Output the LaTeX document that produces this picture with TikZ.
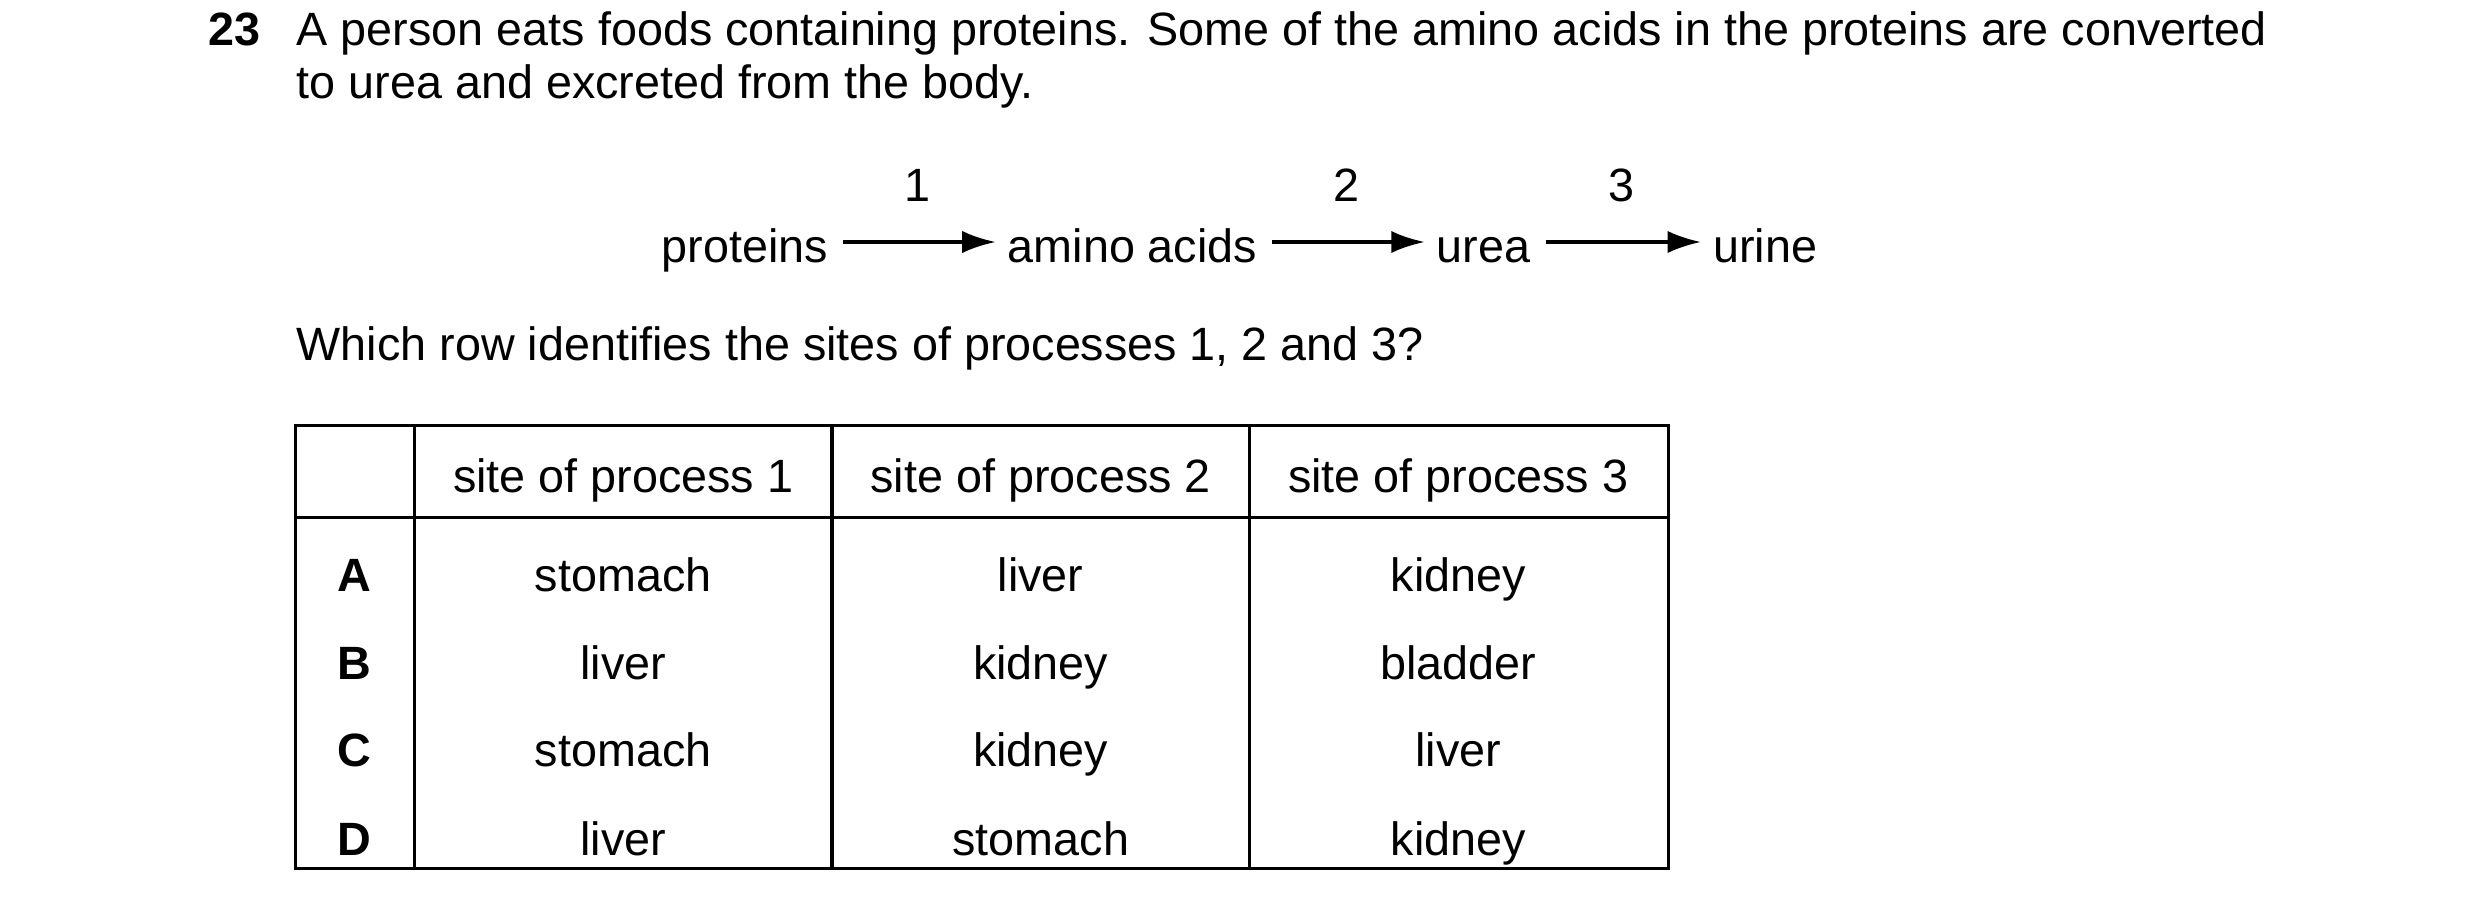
\documentclass[tikz,border=0pt]{standalone}
\usepackage{fontspec}
\setmainfont{Liberation Sans}
\usetikzlibrary{arrows.meta}
\begin{document}
\begin{tikzpicture}[
        x=0.01cm, y=-0.01cm,
        font=\fontsize{8.4}{9.4}\selectfont
    ]
    \tikzset{
        txt/.style = {inner sep=0pt, anchor=base west},
        word/.style = {inner sep=0pt, text height=0.72em, text depth=0pt},
        flow/.style = {-{Latex[length=6pt,width=4pt]}, semithick, shorten <=0.09cm, shorten >=0.07cm},
        stepno/.style = {midway, above=7pt, inner sep=0pt, text height=0.72em, text depth=0pt},
        grid/.style = {semithick},
        cell/.style = {inner sep=0pt, text height=0.72em, text depth=0pt},
    }
        \useasboundingbox (0,0) rectangle (1568,575);
        %
        \node[txt, font=\fontsize{8.4}{9.4}\selectfont\bfseries] at (131,29) (num) {23};
        \node[txt] at (187,29) (q1) {A person eats foods containing proteins. Some of the amino acids in the proteins are converted};
        \node[txt] at (187,62) (q2) {to urea and excreted from the body.};
        %
        \node[word] at (471,153) (prot) {proteins};
        \node[word] at (716,153) (amino) {amino acids};
        \node[word] at (938,153) (urea) {urea};
        \node[word] at (1116,153) (urine) {urine};
        \draw[flow] (prot) -- (amino) node[stepno] {1};
        \draw[flow] (amino) -- (urea) node[stepno] {2};
        \draw[flow] (urea) -- (urine) node[stepno] {3};
        %
        \node[txt] at (187,228) (ask) {Which row identifies the sites of processes 1, 2 and 3?};
        %
        \draw[grid] (187,269) rectangle (1055,549);
        \draw[grid] (187,327) -- (1055,327);
        \foreach \x in {262,526,790}
            \draw[grid] (\x,269) -- (\x,549);
        \node[cell] at (394,299) (h1) {site of process 1};
        \node[cell] at (658,299) (h2) {site of process 2};
        \node[cell] at (922,299) (h3) {site of process 3};
        \foreach \r/\y/\a/\b/\c in {A/361/stomach/liver/kidney,
                                    B/417/liver/kidney/bladder,
                                    C/472/stomach/kidney/liver,
                                    D/528/liver/stomach/kidney} {
            \node[cell, font=\fontsize{8.4}{9.4}\selectfont\bfseries] at (224,\y) (r\r) {\r};
            \node[cell] at (394,\y) (r\r1) {\a};
            \node[cell] at (658,\y) (r\r2) {\b};
            \node[cell] at (922,\y) (r\r3) {\c};
        }
\end{tikzpicture}
\end{document}
